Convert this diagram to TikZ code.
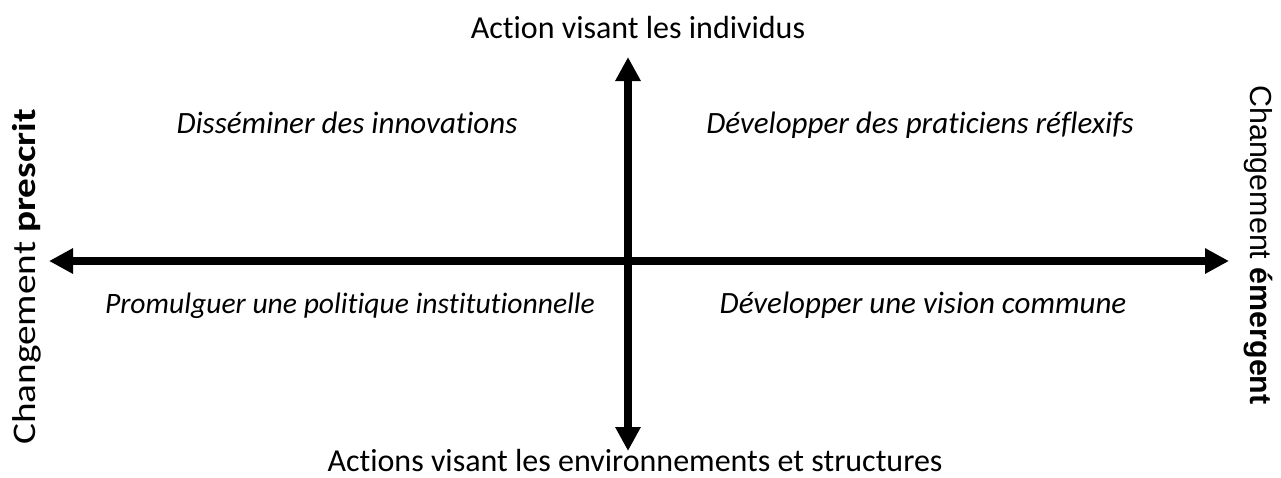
\documentclass[tikz,border=0pt]{standalone}
\usepackage{fontspec}
\setmainfont{Carlito}[Ligatures=CommonOff]
\newfontfamily\arialfont{Liberation Sans}
\usetikzlibrary{arrows.meta}
\tikzset{
  axis/.style={line width=8pt, {Triangle[length=24pt,width=24pt]}-{Triangle[length=24pt,width=24pt]}},
  lbl/.style={inner sep=0pt, anchor=base, font=\fontsize{32}{36}\selectfont},
  quad/.style={inner sep=0pt, anchor=base, font=\fontsize{31}{36}\selectfont\itshape},
}
\begin{document}
\begin{tikzpicture}[x=1pt,y=-1pt]
\useasboundingbox (0,0) rectangle (1281,477);
\coordinate (L) at (49,261);
\coordinate (R) at (1229,261);
\coordinate (T) at (628,57);
\coordinate (B) at (628,451);
\draw[axis] (L) -- (R);
\draw[axis] (T) -- (B);
\node[lbl] (top) at (638,38) {Action visant les individus};
\node[lbl] (bot) at (635,471) {Actions visant les environnements et structures};
\node[lbl, rotate=90, font=\fontsize{33}{38}\selectfont] (left) at (35,277) {\scalebox{1.19}[1]{Changement \textbf{prescrit}}};
\node[lbl, rotate=-90, font=\fontsize{30.4}{34}\selectfont\arialfont] (right) at (1250,245) {Changement \textbf{émergent}};
\node[quad] (q1) at (347,133) {Disséminer des innovations};
\node[quad] (q2) at (920,133) {Développer des praticiens réflexifs};
\node[quad, font=\fontsize{29.6}{34}\selectfont\itshape] (q3) at (350,313) {Promulguer une politique institutionnelle};
\node[quad] (q4) at (923,313) {Développer une vision commune};
\end{tikzpicture}
\end{document}
